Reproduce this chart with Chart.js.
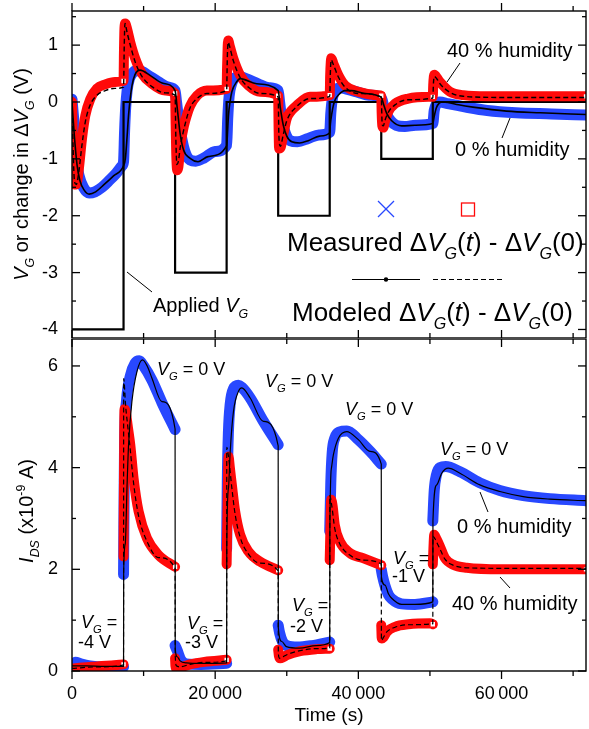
<!DOCTYPE html>
<html>
<head>
<meta charset="utf-8">
<script src="https://cdn.jsdelivr.net/npm/chart.js@4.4.1/dist/chart.umd.min.js"></script>
<style>
  html, body { margin: 0; padding: 0; background: #fff; }
  #wrap { position: relative; width: 589px; height: 729px; }
  #topChart, #bottomChart { position: absolute; left: 0; }
  #topChart { top: 0; }
  #bottomChart { top: 339px; }
</style>
</head>
<body>
<div id="wrap">
  <canvas id="topChart" width="589" height="339"></canvas>
  <canvas id="bottomChart" width="589" height="390"></canvas>
</div>
<script>
// --- Data ---

// Applied gate voltage, 2 h steps
const gateTime = [0, 7200, 14400, 21600, 28800, 36000, 43200, 50400, 71800];
const gateVolt = [-4, 0, -3, 0, -2, 0, -1, 0, 0];

// Top panel: change in V_G, 0 % humidity (measured / modeled)
const dvgDryTime = [0, 300, 600, 1000, 1600, 2400, 3200, 4200, 5200, 6200, 7000, 7200,
  7350, 7500, 7700, 8000, 8400, 8900, 9500, 10500, 12000, 13500, 14400,
  14600, 14900, 15300, 15800, 16500, 17300, 18500, 20000, 21600,
  21750, 21950, 22300, 22800, 23400, 24500, 26000, 27500, 28800,
  29000, 29300, 29800, 30500, 31500, 33000, 34500, 36000,
  36150, 36400, 36800, 37500, 38500, 40000, 41500, 43200,
  43500, 43900, 44500, 45300, 46500, 48000, 50400,
  50600, 50900, 51400, 52500, 55000, 58000, 62000, 67000, 71800];
const dvgDryMeas = [0.05, -0.4, -1.0, -1.3, -1.5, -1.6, -1.58, -1.5, -1.38, -1.25, -1.12, -1.05,
  -0.5, -0.1, 0.2, 0.4, 0.5, 0.55, 0.55, 0.48, 0.36, 0.26, 0.2,
  0.0, -0.3, -0.62, -0.88, -1.02, -1.04, -0.98, -0.87, -0.76,
  -0.3, 0.1, 0.32, 0.43, 0.45, 0.4, 0.32, 0.25, 0.2,
  0.0, -0.3, -0.55, -0.68, -0.7, -0.64, -0.58, -0.53,
  -0.2, 0.08, 0.2, 0.25, 0.22, 0.17, 0.12, 0.08,
  -0.05, -0.2, -0.33, -0.41, -0.43, -0.41, -0.38,
  -0.15, -0.04, 0.0, -0.03, -0.09, -0.15, -0.19, -0.21, -0.23];

const dvgDryModelTime = [0, 300, 700, 1100, 1700, 2400, 3300, 4500, 5800, 7200,
  7450, 7700, 7900, 8150, 8400, 8800, 9500, 11000, 12700, 14400,
  14650, 15100, 15600, 16500, 17600, 19000, 21600,
  21700, 21860, 22100, 22330, 23030, 23500, 25800, 28800,
  29100, 29500, 30000, 30700, 31800, 33000, 34600, 36000,
  36100, 36300, 36510, 36800, 37200, 38100, 39000, 40900, 43200,
  43500, 43960, 44660, 46060, 47900, 50400,
  50600, 50900, 51300, 51800, 52500, 54000, 56000, 60700, 65400, 71800];
const dvgDryModel = [0.0, -0.55, -1.1, -1.38, -1.55, -1.62, -1.58, -1.45, -1.3, -1.12,
  -1.0, -0.6, -0.23, 0.08, 0.3, 0.48, 0.56, 0.46, 0.33, 0.2,
  -0.05, -0.55, -0.85, -0.99, -1.05, -0.96, -0.77,
  -0.6, -0.23, 0.02, 0.18, 0.36, 0.41, 0.32, 0.2,
  -0.1, -0.4, -0.6, -0.7, -0.72, -0.68, -0.6, -0.54,
  -0.38, -0.2, -0.06, 0.05, 0.12, 0.2, 0.2, 0.15, 0.08,
  -0.03, -0.2, -0.33, -0.42, -0.41, -0.38,
  -0.25, -0.1, -0.02, 0.0, -0.01, -0.05, -0.09, -0.16, -0.19, -0.22];

// Top panel: change in V_G, 40 % humidity (measured / modeled)
const dvgHumidTime = [0, 150, 350, 600, 930, 1400, 1860, 2550, 3490, 4650, 6000, 7200,
  7260, 7330, 7440, 7700, 8140, 8840, 9770, 11170, 13020, 14400,
  14480, 14560, 14700, 14850, 15120, 15500, 15820, 16500, 17450, 18840, 21600,
  21660, 21740, 21820, 22050, 22550, 23490, 24650, 26280, 28800,
  28860, 28930, 29150, 29500, 30000, 30600, 31400, 33250, 36000,
  36060, 36150, 36220, 36500, 37210, 38150, 40010, 42800, 43200,
  43260, 43350, 43480, 43700, 44190, 45120, 46980, 49770, 50400,
  50460, 50550, 50620, 51000, 51400, 52800, 54650, 58000, 65000, 71800];
const dvgHumidMeas = [0.0, -0.9, -1.45, -1.45, -1.2, -0.64, -0.24, 0.05, 0.24, 0.31, 0.35, 0.37,
  0.9, 1.3, 1.38, 1.28, 1.05, 0.76, 0.5, 0.32, 0.2, 0.15,
  -0.4, -0.9, -1.2, -1.15, -0.78, -0.5, -0.33, -0.07, 0.11, 0.2, 0.23,
  0.6, 0.95, 1.08, 0.98, 0.76, 0.47, 0.29, 0.18, 0.11,
  -0.45, -0.82, -0.8, -0.58, -0.29, -0.16, -0.06, 0.09, 0.12,
  0.45, 0.7, 0.77, 0.68, 0.47, 0.29, 0.18, 0.12, 0.11,
  -0.2, -0.42, -0.45, -0.35, -0.17, -0.03, 0.06, 0.09, 0.09,
  0.3, 0.45, 0.48, 0.42, 0.35, 0.18, 0.12, 0.1, 0.1, 0.1];

const dvgHumidModelTime = [0, 150, 350, 600, 930, 1400, 1860, 2550, 3490, 4650, 6000, 7200,
  7300, 7400, 7700, 8140, 8840, 9770, 11170, 13020, 14400,
  14500, 14650, 14850, 15120, 15820, 16500, 17450, 18840, 21600,
  21700, 21820, 22050, 22550, 23490, 24650, 26280, 28800,
  28900, 29100, 29500, 30000, 31400, 33250, 36000,
  36100, 36200, 36500, 37210, 38150, 40010, 43200,
  43330, 43500, 43700, 44190, 45120, 46980, 50400,
  50500, 50620, 51000, 51400, 52800, 54650, 60000, 71800];
const dvgHumidModel = [0.0, -0.8, -1.4, -1.45, -1.25, -0.75, -0.35, -0.05, 0.12, 0.2, 0.24, 0.26,
  1.0, 1.38, 1.22, 1.0, 0.7, 0.45, 0.27, 0.16, 0.12,
  -0.6, -1.1, -1.05, -0.8, -0.38, -0.1, 0.06, 0.15, 0.2,
  0.8, 1.05, 0.96, 0.72, 0.43, 0.26, 0.15, 0.09,
  -0.6, -0.78, -0.58, -0.33, -0.08, 0.06, 0.1,
  0.55, 0.74, 0.66, 0.44, 0.26, 0.15, 0.09,
  -0.4, -0.42, -0.33, -0.18, -0.05, 0.04, 0.07,
  0.35, 0.45, 0.4, 0.32, 0.17, 0.1, 0.08, 0.08];

// Bottom panel: I_DS (x1e-9 A), 0 % humidity (null = gap at a gate switch)
const idsDryTime = [0, 500, 1200, 2500, 4500, 7200,
  7200, 7200, 7340, 7600, 8140, 8800, 9400, 10000, 11170, 12560, 14400,
  14400, 14400, 14700, 15200, 16000, 18000, 21600,
  21600, 21600, 21700, 21850, 22100, 22550, 23250, 23720, 24890, 26740, 28800,
  28800, 28800, 29000, 29400, 30000, 31500, 33500, 36000,
  36000, 36000, 36150, 36350, 36700, 37300, 38400, 40000, 41630, 43200,
  43200, 43200, 43400, 43720, 44200, 44660, 46050, 47910, 50400,
  50400, 50400, 50600, 50900, 51400, 52200, 54190, 56980, 59770, 63030, 66750, 71800];
const idsDryMeas = [0.1, 0.17, 0.14, 0.1, 0.08, 0.08,
  null, 1.9, 4.45, 5.3, 5.8, 6.05, 6.1, 6.0, 5.72, 5.28, 4.75,
  null, 0.5, 0.4, 0.22, 0.14, 0.13, 0.15,
  null, 2.4, 3.8, 4.7, 5.25, 5.55, 5.62, 5.58, 5.37, 4.91, 4.45,
  null, 0.9, 0.75, 0.58, 0.5, 0.47, 0.5, 0.57,
  null, 2.75, 3.7, 4.3, 4.58, 4.7, 4.72, 4.55, 4.32, 4.07,
  null, 2.0, 1.85, 1.68, 1.5, 1.42, 1.32, 1.31, 1.36,
  null, 2.95, 3.55, 3.85, 4.0, 4.02, 3.92, 3.7, 3.55, 3.45, 3.39, 3.35];

const idsDryModelTime = [0, 2000, 4500, 7200,
  7220, 7440, 7680, 7900, 8370, 9070, 9850, 10500, 11170, 12560, 14400,
  14420, 14700, 15100, 16000, 18000, 21600,
  21620, 21860, 22100, 22550, 23250, 23720, 24890, 26740, 28800,
  28820, 29300, 29950, 31800, 34100, 36000,
  36020, 36250, 36510, 37210, 38380, 40000, 41630, 43200,
  43220, 43720, 44200, 44660, 46050, 47910, 50400,
  50420, 50940, 51640, 52560, 54190, 56980, 59770, 63030, 66750, 71800];
const idsDryModel = [0.1, 0.1, 0.09, 0.09,
  1.95, 2.5, 3.6, 4.45, 5.3, 5.89, 6.12, 6.0, 5.76, 5.3, 4.76,
  0.45, 0.28, 0.2, 0.16, 0.15, 0.16,
  2.4, 3.6, 4.32, 5.1, 5.5, 5.57, 5.37, 4.91, 4.43,
  0.85, 0.58, 0.48, 0.45, 0.5, 0.56,
  2.75, 4.0, 4.25, 4.58, 4.71, 4.55, 4.32, 4.07,
  1.85, 1.69, 1.52, 1.43, 1.31, 1.31, 1.36,
  2.95, 3.66, 3.89, 3.99, 3.89, 3.66, 3.53, 3.43, 3.38, 3.35];

// Bottom panel: I_DS, 40 % humidity
const idsHumidTime = [0, 1500, 3500, 5500, 7200,
  7200, 7200, 7260, 7330, 7500, 7800, 8140, 8600, 9300, 10470, 12090, 14400,
  14400, 14400, 14450, 14600, 15200, 16500, 18500, 21600,
  21600, 21600, 21680, 21770, 21860, 22050, 22330, 22790, 23490, 24650, 26280, 28800,
  28800, 28800, 28900, 29100, 29500, 30000, 31880, 34210, 36000,
  36000, 36000, 36100, 36200, 36400, 36710, 37410, 38800, 40660, 43200,
  43200, 43200, 43270, 43500, 43970, 45130, 46980, 50000, 50400,
  50400, 50400, 50500, 50600, 50900, 51400, 52100, 53260, 55130, 60000, 71800];
const idsHumidMeas = [0.05, 0.07, 0.09, 0.11, 0.13,
  null, 2.25, 3.7, 5.15, 5.1, 4.8, 4.45, 3.79, 3.14, 2.61, 2.28, 2.05,
  null, 0.25, 0.1, 0.04, 0.07, 0.13, 0.18, 0.22,
  null, 2.1, 2.8, 3.6, 4.22, 4.0, 3.66, 3.14, 2.68, 2.35, 2.15, 1.98,
  null, 0.42, 0.3, 0.25, 0.27, 0.31, 0.39, 0.43, 0.44,
  null, 2.18, 2.8, 3.37, 3.25, 2.87, 2.55, 2.32, 2.22, 2.08,
  null, 0.9, 0.64, 0.66, 0.77, 0.87, 0.92, 0.94, 0.92,
  null, 2.1, 2.45, 2.68, 2.6, 2.45, 2.22, 2.09, 2.03, 2.0, 2.0];

const idsHumidModelTime = [0, 3500, 7200,
  7220, 7500, 7800, 8140, 8600, 9300, 10470, 12090, 14400,
  14420, 14600, 15000, 16500, 18500, 21600,
  21620, 21860, 22330, 22790, 23490, 24650, 26280, 28800,
  28820, 29000, 29500, 30000, 31880, 34210, 36000,
  36020, 36290, 36710, 37410, 38800, 40660, 43200,
  43220, 43500, 43970, 45130, 46980, 50400,
  50420, 50700, 51400, 52100, 53260, 55130, 60000, 71800];
const idsHumidModel = [0.05, 0.08, 0.12,
  5.75, 5.2, 4.8, 4.35, 3.7, 3.05, 2.55, 2.23, 2.02,
  0.3, 0.1, 0.08, 0.13, 0.17, 0.2,
  4.4, 4.22, 3.6, 3.08, 2.63, 2.3, 2.12, 1.97,
  0.35, 0.25, 0.28, 0.32, 0.4, 0.44, 0.45,
  3.45, 3.25, 2.8, 2.5, 2.28, 2.18, 2.1,
  0.6, 0.66, 0.77, 0.86, 0.91, 0.93,
  2.65, 2.6, 2.4, 2.2, 2.08, 2.03, 2.02, 2.02];

// Axis ticks
const timeMax = 71800;
const xMajorTicks = [0, 20000, 40000, 60000];
const xMinorTicks = [10000, 30000, 50000, 70000];
const topMajorTicks = [-4, -3, -2, -1, 0, 1];
const topMinorTicks = [-3.5, -2.5, -1.5, -0.5, 0.5, 1.5];
const botMajorTicks = [0, 2, 4, 6];
const botMinorTicks = [1, 3, 5];

// --- Helpers ---
const FONT = '"Liberation Sans", Arial, Helvetica, sans-serif';
const BLUE = '#2848ff';
const RED = '#ff0a0a';
Chart.defaults.font.family = FONT;
Chart.defaults.color = '#000';

function pts(ts, vs) {
  return ts.map((t, i) => ({ x: t, y: vs[i] }));
}

const switchTimes = gateTime.slice(1, -1);

// open square at the last point of each measured 40 % segment
function endMarker(ctx) {
  if (ctx.type !== 'data') return 0;
  const d = ctx.dataset.data;
  const i = ctx.dataIndex;
  const p = d[i];
  if (!p || p.y === null) return 0;
  if (i === d.length - 1) return 4;
  if (switchTimes.includes(p.x) && (i === 0 || d[i - 1].x !== p.x)) return 4;
  return 0;
}

// text with italic / subscript / superscript pieces
function richText(ctx, parts, x, y, size, align) {
  const fontFor = st => {
    const small = st.includes('s') || st.includes('p');
    const sz = small ? size * 0.62 : size;
    return (st.includes('i') ? 'italic ' : '') + sz.toFixed(1) + 'px ' + FONT;
  };
  let w = 0;
  parts.forEach(([t, st]) => { ctx.font = fontFor(st); w += ctx.measureText(t).width; });
  let cx = align === 'center' ? x - w / 2 : (align === 'right' ? x - w : x);
  ctx.textAlign = 'left';
  ctx.textBaseline = 'alphabetic';
  parts.forEach(([t, st]) => {
    ctx.font = fontFor(st);
    let dy = 0;
    if (st.includes('s')) dy = size * 0.3;
    if (st.includes('p')) dy = -size * 0.42;
    ctx.fillText(t, cx, y + dy);
    cx += ctx.measureText(t).width;
  });
}

function line(ctx, x1, y1, x2, y2, w) {
  ctx.lineWidth = w || 1;
  ctx.beginPath();
  ctx.moveTo(x1, y1);
  ctx.lineTo(x2, y2);
  ctx.stroke();
}

// frame with tick marks; topOut / bottomOut = ticks pointing outside
function framePlugin(yMajor, yMinor, topOut, bottomOut, extra) {
  return {
    id: 'frame',
    afterDraw(chart) {
      const ctx = chart.ctx;
      const a = chart.chartArea;
      const xs = chart.scales.x, ys = chart.scales.y;
      ctx.save();
      ctx.strokeStyle = '#000';
      ctx.lineWidth = 1.4;
      ctx.strokeRect(a.left, a.top, a.right - a.left, a.bottom - a.top);
      const tdir = topOut ? -1 : 1;
      const bdir = bottomOut ? 1 : -1;
      const xt = (v, len) => {
        const px = xs.getPixelForValue(v);
        line(ctx, px, a.top, px, a.top + tdir * len, 1.3);
        line(ctx, px, a.bottom, px, a.bottom + bdir * len, 1.3);
      };
      xMajorTicks.forEach(v => xt(v, 8));
      xMinorTicks.forEach(v => xt(v, 5));
      const yt = (v, len) => {
        const py = ys.getPixelForValue(v);
        line(ctx, a.left, py, a.left + len, py, 1.3);
        line(ctx, a.right, py, a.right - len, py, 1.3);
      };
      yMajor.forEach(v => yt(v, 8));
      yMinor.forEach(v => yt(v, 4));
      ctx.fillStyle = '#000';
      if (extra) extra(ctx, a);
      ctx.restore();
    }
  };
}

function baseOptions(yMin, yMax, yTicks, showX) {
  return {
    responsive: false,
    animation: false,
    devicePixelRatio: 1,
    plugins: { legend: { display: false }, tooltip: { enabled: false } },
    layout: { autoPadding: false, padding: { top: showX ? 0 : 11, right: 3, bottom: showX ? 0 : 1, left: 0 } },
    elements: { point: { radius: 0, hoverRadius: 0 } },
    scales: {
      x: {
        type: 'linear', min: 0, max: timeMax, display: showX,
        afterBuildTicks: s => { s.ticks = xMajorTicks.map(v => ({ value: v })); },
        afterFit: s => {
          s.height = showX ? 58 : 0;
          s.paddingLeft = 0; s.paddingRight = 0; s.paddingTop = 0; s.paddingBottom = 0;
        },
        grid: { display: false, drawTicks: false },
        border: { display: false },
        ticks: {
          padding: 12, font: { size: 18 }, maxRotation: 0,
          callback: v => String(v).replace(/\B(?=(\d{3})+(?!\d))/g, '\u2009')
        },
        title: { display: showX, text: 'Time (s)', font: { size: 19 }, padding: { top: 0, bottom: 2 } }
      },
      y: {
        type: 'linear', min: yMin, max: yMax,
        afterBuildTicks: s => { s.ticks = yTicks.map(v => ({ value: v })); },
        afterFit: s => {
          s.width = 72;
          s.paddingLeft = 0; s.paddingRight = 0; s.paddingTop = 0; s.paddingBottom = 0;
        },
        grid: { display: false, drawTicks: false },
        border: { display: false },
        ticks: { padding: 14, font: { size: 18 }, callback: v => String(v) }
      }
    }
  };
}

const measured = (data, color, width, order) => ({
  data, borderColor: color, borderWidth: width, order, clip: 0,
  cubicInterpolationMode: 'monotone', borderCapStyle: 'round', borderJoinStyle: 'round',
  pointRadius: 0
});
const modeled = (data, width, dashed, order) => ({
  data, borderColor: '#000', borderWidth: width, order, clip: 0,
  borderDash: dashed ? [5, 3] : [], cubicInterpolationMode: 'monotone', pointRadius: 0
});

// --- Top panel: V_G or change in dV_G ---
const topOpts = baseOptions(-4.15, 1.6, topMajorTicks, false);
const redTop = measured(pts(dvgHumidTime, dvgHumidMeas), RED, 10, 3);
redTop.pointStyle = 'rect';
redTop.pointRadius = endMarker;
redTop.pointBackgroundColor = '#fff';
redTop.pointBorderColor = RED;
redTop.pointBorderWidth = 1.3;

new Chart(document.getElementById('topChart'), {
  type: 'line',
  data: {
    datasets: [
      measured(pts(dvgDryTime, dvgDryMeas), BLUE, 11, 5),
      { data: pts(gateTime, gateVolt), stepped: 'before', borderColor: '#000', borderWidth: 2.2, pointRadius: 0, order: 4, clip: 0 },
      redTop,
      modeled(pts(dvgDryModelTime, dvgDryModel), 1.6, false, 2),
      modeled(pts(dvgHumidModelTime, dvgHumidModel), 1.4, true, 1)
    ]
  },
  options: topOpts,
  plugins: [framePlugin(topMajorTicks, topMinorTicks, true, false, (ctx, a) => {
    // y axis title
    ctx.save();
    ctx.translate(28, (a.top + a.bottom) / 2);
    ctx.rotate(-Math.PI / 2);
    richText(ctx, [['V', 'i'], ['G', 'is'], [' or change in \u0394', ''], ['V', 'i'], ['G', 'is'], [' (V)', '']], 0, 0, 20, 'center');
    ctx.restore();

    richText(ctx, [['Applied ', ''], ['V', 'i'], ['G', 'is']], 153, 312, 20, 'left');
    line(ctx, 127, 272, 152, 292, 1);
    richText(ctx, [['40 % humidity', '']], 447, 57, 20, 'left');
    line(ctx, 460, 63, 447, 82, 1);
    richText(ctx, [['0 % humidity', '']], 455, 156, 20, 'left');
    line(ctx, 510, 118, 502, 138, 1);

    // legend
    ctx.strokeStyle = BLUE;
    line(ctx, 378, 201, 394, 217, 1.3);
    line(ctx, 394, 201, 378, 217, 1.3);
    ctx.strokeStyle = RED;
    ctx.lineWidth = 1.3;
    ctx.strokeRect(461.5, 203, 13, 13);
    richText(ctx, [['Measured \u0394', ''], ['V', 'i'], ['G', 'is'], ['(', ''], ['t', 'i'], [') - \u0394', ''], ['V', 'i'], ['G', 'is'], ['(0)', '']], 287, 251, 26, 'left');
    ctx.strokeStyle = '#000';
    line(ctx, 352, 279.5, 420, 279.5, 1.2);
    ctx.beginPath();
    ctx.arc(386, 279.5, 2.2, 0, Math.PI * 2);
    ctx.fill();
    ctx.setLineDash([5, 3]);
    line(ctx, 433, 279.5, 502, 279.5, 1.2);
    ctx.setLineDash([]);
    richText(ctx, [['Modeled \u0394', ''], ['V', 'i'], ['G', 'is'], ['(', ''], ['t', 'i'], [') - \u0394', ''], ['V', 'i'], ['G', 'is'], ['(0)', '']], 292, 321, 26, 'left');
  })]
});

// --- Bottom panel: I_DS ---
const botOpts = baseOptions(0, 6.53, botMajorTicks, true);
const redBot = measured(pts(idsHumidTime, idsHumidMeas), RED, 10, 3);
redBot.pointStyle = 'rect';
redBot.pointRadius = endMarker;
redBot.pointBackgroundColor = '#fff';
redBot.pointBorderColor = RED;
redBot.pointBorderWidth = 1.3;

new Chart(document.getElementById('bottomChart'), {
  type: 'line',
  data: {
    datasets: [
      measured(pts(idsDryTime, idsDryMeas), BLUE, 11, 5),
      redBot,
      modeled(pts(idsDryModelTime, idsDryModel), 1.2, false, 2),
      modeled(pts(idsHumidModelTime, idsHumidModel), 1.2, true, 1)
    ]
  },
  options: botOpts,
  plugins: [framePlugin(botMajorTicks, botMinorTicks, false, true, (ctx, a) => {
    const oy = 339; // page offset of this canvas
    ctx.save();
    ctx.translate(33, 511 - oy);
    ctx.rotate(-Math.PI / 2);
    richText(ctx, [['I', 'i'], ['DS', 'is'], [' (x10', ''], ['-9', 'p'], [' A)', '']], 0, 0, 20, 'center');
    ctx.restore();

    const vg0 = [[157, 375], [265, 387], [345, 415], [440, 455]];
    vg0.forEach(([x, y]) => richText(ctx, [['V', 'i'], ['G', 'is'], [' = 0 V', '']], x, y - oy, 18, 'left'));
    const vgNeg = [[81, 628, 78, 648, '-4 V'], [187, 629, 185, 648, '-3 V'], [292, 611, 290, 632, '-2 V'], [393, 564, 392, 582, '-1 V']];
    vgNeg.forEach(([x1, y1, x2, y2, txt]) => {
      richText(ctx, [['V', 'i'], ['G', 'is'], [' =', '']], x1, y1 - oy, 18, 'left');
      richText(ctx, [[txt, '']], x2, y2 - oy, 18, 'left');
    });
    richText(ctx, [['0 % humidity', '']], 457, 533 - oy, 20, 'left');
    line(ctx, 480, 492 - oy, 488, 512 - oy, 1);
    richText(ctx, [['40 % humidity', '']], 452, 610 - oy, 20, 'left');
    line(ctx, 500, 577 - oy, 510, 588 - oy, 1);
  })]
});
</script>
</body>
</html>
